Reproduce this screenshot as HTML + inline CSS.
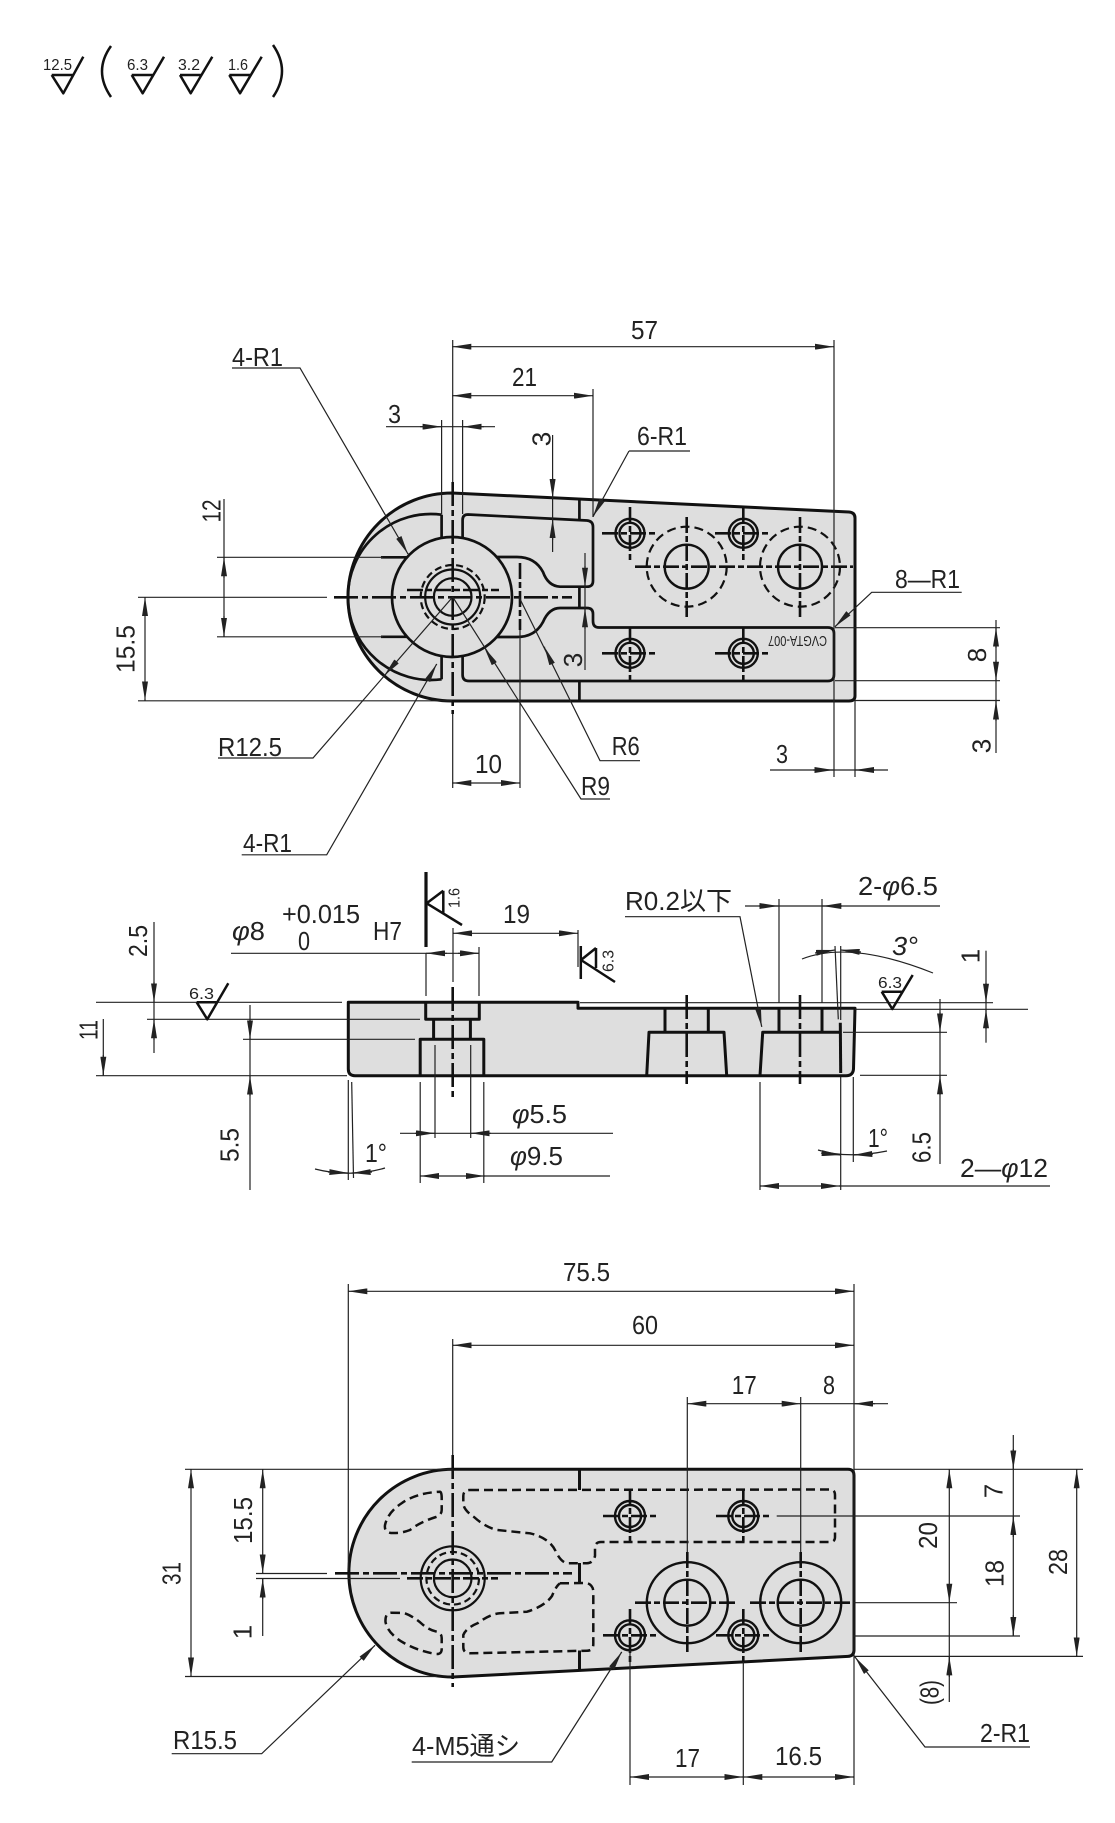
<!DOCTYPE html>
<html><head><meta charset="utf-8"><style>
html,body{margin:0;padding:0;background:#fff}
svg{display:block}
.t{stroke:#222;stroke-width:1.2;fill:none}
.k{stroke:#111;stroke-width:3;fill:none;stroke-linejoin:round}
.m{stroke:#111;stroke-width:2.4;fill:none}
.c{stroke:#111;stroke-width:2.6;fill:none;stroke-dasharray:24 4 6 4}
.x{stroke:#111;stroke-width:2.6;fill:none;stroke-dasharray:16 3 6 3}
.h{stroke:#111;stroke-width:2.6;fill:none;stroke-dasharray:9 5}
text{font-family:"Liberation Sans Narrow","Liberation Sans","Noto Sans CJK JP",sans-serif;fill:#222;font-size:26px}
.s{font-size:16px}
</style></head><body>
<svg width="1115" height="1823" viewBox="0 0 1115 1823" xmlns="http://www.w3.org/2000/svg">
<defs>
<marker id="a" viewBox="0 0 19 6" refX="19" refY="3" markerWidth="19" markerHeight="6" markerUnits="userSpaceOnUse" orient="auto"><path d="M0,0 L19,3 L0,6 Z" fill="#222"/></marker>
</defs>

<!-- ===== header roughness symbols ===== -->
<g class="k" style="stroke-width:2.5">
<path d="M51.7,75 L73.3,75 M51.7,75 L63.3,93.3 L83.3,56.7"/>
<path d="M131.7,75 L153.3,75 M131.7,75 L142.7,93.3 L164,56.7"/>
<path d="M180,75 L201.7,75 M180,75 L190.7,93.3 L212.3,56.7"/>
<path d="M229.3,75 L250.7,75 M229.3,75 L240,93.3 L261.7,56.7"/>
<path d="M111,46 Q93,71 111,97"/>
<path d="M273,45 Q291,71 273,97"/>
</g>
<text class="s" x="43" y="70" textLength="29" lengthAdjust="spacingAndGlyphs">12.5</text>
<text class="s" x="127" y="70" textLength="21" lengthAdjust="spacingAndGlyphs">6.3</text>
<text class="s" x="178" y="70" textLength="22" lengthAdjust="spacingAndGlyphs">3.2</text>
<text class="s" x="228" y="70" textLength="20" lengthAdjust="spacingAndGlyphs">1.6</text>

<!-- ===================== TOP VIEW ===================== -->
<path d="M452,493 L849,512 Q855,512.5 855,518 L855,696 Q855,701 849,701 L452,701 A104,104 0 0 1 452,493 Z" fill="#dedede" stroke="#111" stroke-width="3"/>
<g class="k" style="stroke-width:2.7">
<path d="M441.6,514.7 A83,83 0 1 0 441.6,679.3"/>
<circle cx="452" cy="597" r="60"/>
<line x1="441.6" y1="514.7" x2="441.6" y2="537.9"/>
<line x1="441.6" y1="656.1" x2="441.6" y2="679.3"/>
<line x1="381" y1="557.3" x2="407" y2="557.3"/>
<line x1="381" y1="636.8" x2="407" y2="636.8"/>
<path d="M462.6,537.9 L462.6,520 Q462.6,514.5 468,514.5 L587,520.5 Q593,521 593,527 L593,581 Q593,586.7 587,586.7 L560,586.7 Q548,586 543,572 Q535,557 517,557 L497,557"/>
<path d="M497,637 L517,637 Q535,637 543,622 Q549,608 560,608 L587,608 Q593,608 593,614 L593,621 Q593,627.5 599,627.5 L828,627.5 Q834,627.5 834,633.5 L834,674.5 Q834,681 828,681 L469,681 Q462.6,681 462.6,675 L462.6,656.1"/>
<line x1="579.4" y1="499" x2="579.4" y2="520"/>
<line x1="579.4" y1="586.7" x2="579.4" y2="608"/>
<line x1="579.4" y1="681" x2="579.4" y2="700"/>
</g>
<circle cx="452.7" cy="597" r="32" class="h" style="stroke-width:2.2;stroke-dasharray:7 4"/>
<circle cx="452.7" cy="597" r="27.5" class="m" style="stroke-width:2.2"/>
<circle cx="452.7" cy="597" r="18.8" class="m" style="stroke-width:2.2"/>
<!-- centerlines -->
<line class="c" x1="334" y1="597.3" x2="572" y2="597.3"/>
<line class="x" x1="407" y1="590" x2="499" y2="590"/>
<line class="c" x1="452.7" y1="482" x2="452.7" y2="714"/>
<line class="x" x1="520" y1="563" x2="520" y2="630"/>
<!-- small holes -->
<g class="m">
<circle cx="630" cy="533.3" r="14.5"/><circle cx="630" cy="533.3" r="10.5"/>
<circle cx="743.3" cy="533.3" r="14.5"/><circle cx="743.3" cy="533.3" r="10.5"/>
<circle cx="630" cy="653.3" r="14.5"/><circle cx="630" cy="653.3" r="10.5"/>
<circle cx="743.3" cy="653.3" r="14.5"/><circle cx="743.3" cy="653.3" r="10.5"/>
<circle cx="686.7" cy="566.7" r="22"/><circle cx="800" cy="566.7" r="22"/>
</g>
<circle cx="686.7" cy="566.7" r="40" class="h" style="stroke-width:2.2"/>
<circle cx="800" cy="566.7" r="40" class="h" style="stroke-width:2.2"/>
<g class="x">
<line x1="602" y1="533.3" x2="658" y2="533.3"/><line x1="630" y1="507" x2="630" y2="560"/>
<line x1="715" y1="533.3" x2="771" y2="533.3"/><line x1="743.3" y1="507" x2="743.3" y2="560"/>
<line x1="602" y1="653.3" x2="658" y2="653.3"/><line x1="630" y1="628" x2="630" y2="680"/>
<line x1="715" y1="653.3" x2="771" y2="653.3"/><line x1="743.3" y1="628" x2="743.3" y2="680"/>
<line x1="635" y1="566.7" x2="853" y2="566.7"/>
<line x1="686.7" y1="517" x2="686.7" y2="618"/>
<line x1="800" y1="517" x2="800" y2="618"/>
</g>
<text class="s" transform="translate(797.5,641.5) rotate(180)" x="0" y="5.5" text-anchor="middle" font-size="15" textLength="59" lengthAdjust="spacingAndGlyphs" style="font-size:15px">CVGTA-007</text>

<!-- top view dims -->
<g class="t">
<line x1="452.7" y1="340" x2="452.7" y2="482"/><line x1="452.7" y1="714" x2="452.7" y2="788"/>
<line x1="834" y1="340" x2="834" y2="777"/>
<line x1="593" y1="389" x2="593" y2="517"/>
<line x1="441.6" y1="420" x2="441.6" y2="514"/>
<line x1="462.6" y1="420" x2="462.6" y2="514"/>
<line x1="520" y1="630" x2="520" y2="788"/>
<line x1="855" y1="700" x2="855" y2="777"/>
<line x1="452.3" y1="346.7" x2="834" y2="346.7"/>
<line x1="452.3" y1="395.7" x2="593" y2="395.7"/>
<line x1="386" y1="426.7" x2="495" y2="426.7"/>
<line x1="552.6" y1="435" x2="552.6" y2="552"/>
<line x1="585" y1="553" x2="585" y2="670"/>
<path d="M629,451 L690,451 M629,451 L593,516.7"/>
<path d="M232,368 L300,368 L408,554"/>
<line x1="224" y1="499" x2="224" y2="637"/>
<line x1="217" y1="557.3" x2="383" y2="557.3"/>
<line x1="217" y1="636.8" x2="383" y2="636.8"/>
<line x1="145" y1="597" x2="145" y2="700.5"/>
<line x1="138" y1="597.3" x2="327" y2="597.3"/>
<line x1="138" y1="700.8" x2="452" y2="700.8"/>
<path d="M218,758 L313,758 L452.7,597"/>
<path d="M241.7,854.8 L326.7,854.8 L436.7,664"/>
<line x1="452.3" y1="783" x2="520" y2="783"/>
<path d="M452.7,597 L581,799 L610,799"/>
<path d="M519,597 L600,760.7 L640,760.7"/>
<path d="M961.7,592.3 L871.7,592.3 L835,626.7"/>
<line x1="996" y1="620" x2="996" y2="753"/>
<line x1="835" y1="627.7" x2="1000" y2="627.7"/>
<line x1="835" y1="680.7" x2="1000" y2="680.7"/>
<line x1="855" y1="700.5" x2="1000" y2="700.5"/>
<line x1="770" y1="770" x2="888" y2="770"/>
</g>
<g class="t" marker-end="url(#a)">
<path d="M453.3,346.7 L452.3,346.7"/><path d="M833,346.7 L834,346.7"/>
<path d="M453.3,395.7 L452.3,395.7"/><path d="M592,395.7 L593,395.7"/>
<path d="M420,426.7 L441.6,426.7"/><path d="M484,426.7 L462.6,426.7"/>
<path d="M552.6,478 L552.6,498"/><path d="M552.6,540 L552.6,519"/>
<path d="M585,566 L585,586.7"/><path d="M585,629 L585,608.3"/>
<path d="M593.3,515.8 L592.8,516.7"/>
<path d="M407.5,553.1 L408,554"/>
<path d="M224,578 L224,557.3"/><path d="M224,616 L224,636.8"/>
<path d="M145,598 L145,597"/><path d="M145,699.5 L145,700.5"/>
<path d="M384.8,674.9 L384.1,675.7"/>
<path d="M436.2,664.9 L436.7,664"/>
<path d="M453.3,783 L452.3,783"/><path d="M519,783 L520,783"/>
<path d="M484.8,648.4 L484.3,647.6"/>
<path d="M544.8,647.6 L544.4,646.7"/>
<path d="M835.7,626 L835,626.7"/>
<path d="M996,648 L996,627.7"/><path d="M996,660 L996,680.7"/>
<path d="M996,721 L996,700.5"/>
<path d="M813,770 L833.3,770"/><path d="M875,770 L855,770"/>
</g>
<text x="631" y="339" textLength="27" lengthAdjust="spacingAndGlyphs">57</text>
<text x="512" y="386" textLength="25" lengthAdjust="spacingAndGlyphs">21</text>
<text x="388" y="423" textLength="13" lengthAdjust="spacingAndGlyphs">3</text>
<text x="637" y="445" textLength="50" lengthAdjust="spacingAndGlyphs">6-R1</text>
<text x="232" y="366" textLength="51" lengthAdjust="spacingAndGlyphs">4-R1</text>
<text transform="translate(211,511) rotate(-90)" x="0" y="9.3" text-anchor="middle" textLength="23" lengthAdjust="spacingAndGlyphs">12</text>
<text transform="translate(125,649) rotate(-90)" x="0" y="9.3" text-anchor="middle" textLength="48" lengthAdjust="spacingAndGlyphs">15.5</text>
<text x="218" y="756" textLength="64" lengthAdjust="spacingAndGlyphs">R12.5</text>
<text x="243" y="852" textLength="49" lengthAdjust="spacingAndGlyphs">4-R1</text>
<text x="475" y="773" textLength="27" lengthAdjust="spacingAndGlyphs">10</text>
<text x="581" y="795" textLength="29" lengthAdjust="spacingAndGlyphs">R9</text>
<text x="611.7" y="755" textLength="28" lengthAdjust="spacingAndGlyphs">R6</text>
<text transform="translate(541,439) rotate(-90)" x="0" y="9.3" text-anchor="middle">3</text>
<text transform="translate(572.5,660) rotate(-90)" x="0" y="9.3" text-anchor="middle">3</text>
<text x="895" y="588" textLength="65" lengthAdjust="spacingAndGlyphs">8—R1</text>
<text transform="translate(976.7,655) rotate(-90)" x="0" y="9.3" text-anchor="middle">8</text>
<text transform="translate(981,746) rotate(-90)" x="0" y="9.3" text-anchor="middle">3</text>
<text x="776" y="763" textLength="12" lengthAdjust="spacingAndGlyphs">3</text>

<!-- ===================== SIDE VIEW ===================== -->
<path d="M348.3,1002.3 L578,1002.3 L578,1008.3 L855,1008.3 L853.5,1069 Q853,1075.7 846,1075.7 L355,1075.7 Q348.3,1075.7 348.3,1069 Z" fill="#dedede" stroke="#111" stroke-width="3" stroke-linejoin="round"/>
<g class="k">
<path d="M425.7,1002.3 L425.7,1019.3 L479.3,1019.3 L479.3,1002.3"/>
<line x1="433.6" y1="1019.3" x2="433.6" y2="1039.3"/>
<line x1="470.4" y1="1019.3" x2="470.4" y2="1039.3"/>
<path d="M420.2,1075.7 L420.2,1039.3 L483.8,1039.3 L483.8,1075.7"/>
<line x1="665" y1="1008.3" x2="665" y2="1032.3"/>
<line x1="708.3" y1="1008.3" x2="708.3" y2="1032.3"/>
<path d="M646.7,1075.7 L649,1032.3 L724,1032.3 L726.7,1075.7"/>
<line x1="779" y1="1008.3" x2="779" y2="1032.3"/>
<line x1="822" y1="1008.3" x2="822" y2="1032.3"/>
<path d="M760,1075.7 L762.7,1032.3 L840,1032.3"/>
<line x1="840.3" y1="1022.7" x2="840.7" y2="1073"/>
</g>
<line class="c" x1="452.7" y1="987" x2="452.7" y2="1099"/>
<line class="c" x1="686.7" y1="995" x2="686.7" y2="1084"/>
<line class="c" x1="800" y1="995" x2="800" y2="1084"/>
<!-- side dims -->
<g class="t">
<line x1="96" y1="1002.3" x2="342" y2="1002.3"/>
<line x1="147" y1="1019.3" x2="420" y2="1019.3"/>
<line x1="243" y1="1039.3" x2="415" y2="1039.3"/>
<line x1="96" y1="1075.7" x2="347" y2="1075.7"/>
<line x1="154" y1="922" x2="154" y2="1053"/>
<line x1="103.3" y1="1019" x2="103.3" y2="1076"/>
<line x1="250" y1="1005" x2="250" y2="1190"/>
<line x1="435" y1="1045" x2="435" y2="1138"/>
<line x1="470.7" y1="1045" x2="470.7" y2="1138"/>
<line x1="420.2" y1="1082" x2="420.2" y2="1183"/>
<line x1="483.8" y1="1082" x2="483.8" y2="1183"/>
<line x1="348.3" y1="1080" x2="348.3" y2="1180"/>
<line x1="351.7" y1="1082" x2="353.5" y2="1178"/>
<path d="M315,1169 Q350,1178 385,1168"/>
<line x1="231" y1="953.3" x2="479" y2="953.3"/>
<line x1="426" y1="953" x2="426" y2="996"/>
<line x1="479" y1="947" x2="479" y2="996"/>
<line x1="453" y1="933.3" x2="578" y2="933.3"/>
<line x1="453" y1="928" x2="453" y2="982"/>
<line x1="578" y1="930" x2="578" y2="967"/>
<path d="M625,916.7 L740,916.7 L761.7,1026.7"/>
<line x1="745" y1="906" x2="940" y2="906"/>
<line x1="779" y1="899" x2="779" y2="1003"/>
<line x1="822" y1="899" x2="822" y2="1003"/>
<path d="M802,959 Q850,940 933,973"/>
<line x1="835" y1="946" x2="838.3" y2="1019.3"/>
<line x1="840.7" y1="946" x2="840.7" y2="1020"/>
<line x1="580" y1="1002.7" x2="993" y2="1002.7"/>
<line x1="855" y1="1009.3" x2="1028" y2="1009.3"/>
<line x1="843" y1="1032.3" x2="947" y2="1032.3"/>
<line x1="860" y1="1075.3" x2="947" y2="1075.3"/>
<line x1="986" y1="950.7" x2="986" y2="1042.7"/>
<line x1="940" y1="999" x2="940" y2="1164"/>
<line x1="840.7" y1="1077" x2="840.7" y2="1190"/>
<line x1="853.3" y1="1077" x2="853.3" y2="1162"/>
<path d="M818,1150 Q847,1159 887,1151"/>
<line x1="760" y1="1186" x2="1050" y2="1186"/>
<line x1="760" y1="1082" x2="760" y2="1190"/>
<line x1="400" y1="1133.3" x2="613" y2="1133.3"/>
<line x1="420" y1="1176" x2="610" y2="1176"/>
</g>
<g class="t" marker-end="url(#a)">
<path d="M154,982 L154,1002.3"/><path d="M154,1040 L154,1019.3"/>
<path d="M103.3,1055 L103.3,1075.7"/>
<path d="M250,1019 L250,1039.3"/><path d="M250,1096 L250,1075.7"/>
<path d="M328,1172 L348.3,1173"/><path d="M372,1172 L351.7,1173"/>
<path d="M447,953.3 L426,953.3"/><path d="M458,953.3 L479,953.3"/>
<path d="M454,933.3 L453,933.3"/><path d="M577,933.3 L578,933.3"/>
<path d="M761.5,1025.7 L761.7,1026.7"/>
<path d="M759,906 L778.3,906"/><path d="M842,906 L822.3,906"/>
<path d="M815,953 L835,950"/><path d="M861,952 L840.7,950"/>
<path d="M986,983 L986,1002.7"/><path d="M986,1029 L986,1009.3"/>
<path d="M940,1012 L940,1032.3"/><path d="M940,1095 L940,1075.3"/>
<path d="M821,1153 L840.7,1155"/><path d="M873,1154 L853.3,1155"/>
<path d="M761,1186 L760,1186"/><path d="M839,1186 L840,1186"/>
<path d="M415,1133.3 L435,1133.3"/><path d="M491,1133.3 L470.7,1133.3"/>
<path d="M421,1176 L420,1176"/><path d="M484,1176 L485,1176"/>
</g>
<!-- side symbols -->
<g class="k" style="stroke-width:2.5">
<path d="M196.7,1002.3 L216.7,1002.3 M196.7,1002.3 L207.3,1019.3 L228.3,983.3"/>
<path d="M881.7,991.7 L901.7,991.7 M881.7,991.7 L892.3,1009 L912.7,975"/>
<line x1="426" y1="872" x2="426" y2="947" style="stroke-width:3.2"/>
<path d="M443.3,890.7 L443.3,913 M443.3,890.7 L426.7,903.3 L462,925"/>
<line x1="580.8" y1="946" x2="580.8" y2="979"/>
<path d="M596,948 L596,968 M596,948 L581,960 L615,982"/>
</g>
<text class="s" x="189" y="999" textLength="25" lengthAdjust="spacingAndGlyphs">6.3</text>
<text class="s" x="878" y="988" textLength="24" lengthAdjust="spacingAndGlyphs">6.3</text>
<text class="s" transform="translate(454,898) rotate(-90)" x="0" y="5.5" text-anchor="middle" textLength="20" lengthAdjust="spacingAndGlyphs">1.6</text>
<text class="s" transform="translate(608,961) rotate(-90)" x="0" y="5.5" text-anchor="middle" textLength="22" lengthAdjust="spacingAndGlyphs">6.3</text>
<text transform="translate(137.5,941) rotate(-90)" x="0" y="9.3" text-anchor="middle" textLength="32" lengthAdjust="spacingAndGlyphs">2.5</text>
<text transform="translate(88,1030) rotate(-90)" x="0" y="9.3" text-anchor="middle" textLength="20" lengthAdjust="spacingAndGlyphs">11</text>
<text transform="translate(229,1145) rotate(-90)" x="0" y="9.3" text-anchor="middle" textLength="34" lengthAdjust="spacingAndGlyphs">5.5</text>
<text x="365" y="1162" textLength="22" lengthAdjust="spacingAndGlyphs">1°</text>
<text x="232" y="940" textLength="33" lengthAdjust="spacingAndGlyphs"><tspan font-style="italic">φ</tspan>8</text>
<text x="282" y="923" textLength="78" lengthAdjust="spacingAndGlyphs">+0.015</text>
<text x="298" y="950" textLength="12" lengthAdjust="spacingAndGlyphs">0</text>
<text x="373" y="940" textLength="29" lengthAdjust="spacingAndGlyphs">H7</text>
<text x="503" y="923" textLength="27" lengthAdjust="spacingAndGlyphs">19</text>
<text x="625" y="910" textLength="107" lengthAdjust="spacingAndGlyphs">R0.2以下</text>
<text x="858" y="895" textLength="80" lengthAdjust="spacingAndGlyphs">2-<tspan font-style="italic">φ</tspan>6.5</text>
<text x="892" y="955" textLength="26" lengthAdjust="spacingAndGlyphs" font-style="italic">3°</text>
<text transform="translate(970,956) rotate(-90)" x="0" y="9.3" text-anchor="middle">1</text>
<text transform="translate(921,1147.5) rotate(-90)" x="0" y="9.3" text-anchor="middle" textLength="31" lengthAdjust="spacingAndGlyphs">6.5</text>
<text x="868" y="1147" textLength="20" lengthAdjust="spacingAndGlyphs">1°</text>
<text x="960" y="1177" textLength="88" lengthAdjust="spacingAndGlyphs">2—<tspan font-style="italic">φ</tspan>12</text>
<text x="512" y="1123" textLength="55" lengthAdjust="spacingAndGlyphs"><tspan font-style="italic">φ</tspan>5.5</text>
<text x="510" y="1165" textLength="53" lengthAdjust="spacingAndGlyphs"><tspan font-style="italic">φ</tspan>9.5</text>

<!-- ===================== BOTTOM VIEW ===================== -->
<path d="M452.7,1469.3 L848,1469.3 Q854,1469.3 854,1475.5 L854,1650 Q854,1656 848,1656.4 L452.7,1677 A103.85,103.85 0 0 1 452.7,1469.3 Z" fill="#dedede" stroke="#111" stroke-width="3" stroke-linejoin="round"/>
<g class="k">
<line x1="579.5" y1="1469" x2="579.5" y2="1490"/>
<line x1="579.5" y1="1563" x2="579.5" y2="1583.5"/>
<line x1="579.5" y1="1650.5" x2="579.5" y2="1670"/>
</g>
<g class="h" style="stroke-width:2.5">
<path d="M440,1491.7 Q441.7,1492 441.7,1498 L441.7,1510 Q441.7,1515 436,1517 Q420,1522 410,1530 Q402,1533 396,1533 L391,1533 Q384,1532 385,1525 Q388,1512 402,1503 Q416,1493 440,1491.7 Z"/>
<path d="M391,1612.7 L404,1613 Q413,1616 422,1624 Q429,1630 436.7,1631.7 Q441.7,1633 441.7,1638 L441.7,1649 Q441.7,1654.5 436,1654 Q418,1651 404,1643 Q388,1634 385.5,1622 Q385,1613 391,1612.7 Z"/>
<path d="M470,1490 L830,1489.5 Q835,1489.5 835,1495 L835,1537 Q835,1542 830,1542 L601,1542 Q595,1542 595,1548 L595,1556 Q593,1563 587,1563.3 L567,1563.3 Q561,1562 556,1552 Q550,1538 530,1533.3 L497,1530 Q485,1527 474,1517 Q463.3,1510 463.3,1503 L463.3,1496 Q463.3,1490 470,1490 Z"/>
<path d="M560,1583.3 L587,1583 Q593.3,1585 593.3,1592 L593.3,1644 Q593.3,1650.7 587,1650.7 L470,1653.3 Q463.3,1653.3 463.3,1647 L463.3,1635 Q466,1628 478,1623 Q490,1614 500,1613.3 L527,1611.7 Q545,1606 552,1596 Q556,1586 560,1583.3"/>
</g>
<circle cx="452.7" cy="1578.3" r="32" class="m" style="stroke-width:2.2"/>
<circle cx="452.7" cy="1578.3" r="26.3" class="h" style="stroke-width:2.2;stroke-dasharray:7 4"/>
<circle cx="452.7" cy="1578.3" r="18.8" class="m" style="stroke-width:2.2"/>
<line class="c" x1="335" y1="1573.3" x2="572" y2="1573.3"/>
<line class="x" x1="407" y1="1578.3" x2="498" y2="1578.3"/>
<line class="c" x1="452.7" y1="1455" x2="452.7" y2="1687"/>
<g class="m">
<circle cx="630" cy="1516" r="15"/><circle cx="630" cy="1516" r="11"/>
<circle cx="743.3" cy="1516" r="15"/><circle cx="743.3" cy="1516" r="11"/>
<circle cx="630" cy="1635.3" r="15"/><circle cx="630" cy="1635.3" r="11"/>
<circle cx="743.3" cy="1635.3" r="15"/><circle cx="743.3" cy="1635.3" r="11"/>
<circle cx="687.3" cy="1602.7" r="40.5"/><circle cx="687.3" cy="1602.7" r="23"/>
<circle cx="800.7" cy="1602.7" r="40.5"/><circle cx="800.7" cy="1602.7" r="23"/>
</g>
<g class="x">
<line x1="603" y1="1516" x2="658" y2="1516"/><line x1="630" y1="1489" x2="630" y2="1542"/>
<line x1="716" y1="1516" x2="771" y2="1516"/><line x1="743.3" y1="1489" x2="743.3" y2="1542"/>
<line x1="603" y1="1635.3" x2="658" y2="1635.3"/><line x1="630" y1="1609" x2="630" y2="1662"/>
<line x1="716" y1="1635.3" x2="771" y2="1635.3"/><line x1="743.3" y1="1609" x2="743.3" y2="1662"/>
<line x1="635" y1="1602.7" x2="738" y2="1602.7"/><line x1="687.3" y1="1552" x2="687.3" y2="1654"/>
<line x1="750" y1="1602.7" x2="852" y2="1602.7"/><line x1="800.7" y1="1552" x2="800.7" y2="1654"/>
</g>
<!-- bottom dims -->
<g class="t">
<line x1="348.3" y1="1291.3" x2="854" y2="1291.3"/>
<line x1="348.3" y1="1284" x2="348.3" y2="1570"/>
<line x1="854" y1="1284" x2="854" y2="1785"/>
<line x1="452.7" y1="1345.3" x2="854" y2="1345.3"/>
<line x1="452.7" y1="1339" x2="452.7" y2="1455"/>
<line x1="687.3" y1="1403.7" x2="888" y2="1403.7"/>
<line x1="687.3" y1="1397" x2="687.3" y2="1552"/>
<line x1="800.7" y1="1397" x2="800.7" y2="1552"/>
<line x1="185" y1="1469.3" x2="452.7" y2="1469.3"/>
<line x1="185" y1="1676.5" x2="437" y2="1676.5"/>
<line x1="191" y1="1469.3" x2="191" y2="1676.5"/>
<line x1="262.7" y1="1469.3" x2="262.7" y2="1573.5"/>
<line x1="262.7" y1="1578.3" x2="262.7" y2="1636"/>
<line x1="256" y1="1573.5" x2="327" y2="1573.5"/>
<line x1="256" y1="1578.5" x2="400" y2="1578.5"/>
<path d="M171.7,1753.7 L261.7,1753.7 L375,1645.3"/>
<path d="M411.7,1762 L551.7,1762 L621.7,1652"/>
<path d="M1030,1747 L925,1747 L855,1657"/>
<line x1="854" y1="1469.3" x2="1083" y2="1469.3"/>
<line x1="776.7" y1="1516" x2="1020" y2="1516"/>
<line x1="853" y1="1602.7" x2="957" y2="1602.7"/>
<line x1="853" y1="1636" x2="1020" y2="1636"/>
<line x1="854" y1="1656.4" x2="1083" y2="1656.4"/>
<line x1="949.3" y1="1469.3" x2="949.3" y2="1702"/>
<line x1="1013.3" y1="1435" x2="1013.3" y2="1636"/>
<line x1="1076.7" y1="1469.3" x2="1076.7" y2="1656.4"/>
<line x1="630" y1="1777" x2="854" y2="1777"/>
<line x1="630" y1="1650" x2="630" y2="1785"/>
<line x1="743.3" y1="1662" x2="743.3" y2="1785"/>
</g>
<g class="t" marker-end="url(#a)">
<path d="M349.3,1291.3 L348.3,1291.3"/><path d="M853,1291.3 L854,1291.3"/>
<path d="M453.7,1345.3 L452.7,1345.3"/><path d="M853,1345.3 L854,1345.3"/>
<path d="M688.3,1403.7 L687.3,1403.7"/><path d="M799.7,1403.7 L800.7,1403.7"/>
<path d="M875,1403.7 L854,1403.7"/>
<path d="M191,1470.3 L191,1469.3"/><path d="M191,1675.5 L191,1676.5"/>
<path d="M262.7,1470.3 L262.7,1469.3"/><path d="M262.7,1572.5 L262.7,1573.5"/>
<path d="M262.7,1599 L262.7,1578.5"/>
<path d="M374.3,1646 L375,1645.3"/>
<path d="M621.2,1652.8 L621.7,1652"/>
<path d="M855.6,1657.8 L855,1657"/>
<path d="M949.3,1470.3 L949.3,1469.3"/><path d="M949.3,1601.7 L949.3,1602.7"/>
<path d="M949.3,1677 L949.3,1656.4"/>
<path d="M1013.3,1449 L1013.3,1469.3"/><path d="M1013.3,1537 L1013.3,1516"/>
<path d="M1013.3,1615 L1013.3,1636"/>
<path d="M1076.7,1470.3 L1076.7,1469.3"/><path d="M1076.7,1655.4 L1076.7,1656.4"/>
<path d="M631,1777 L630,1777"/><path d="M742.3,1777 L743.3,1777"/>
<path d="M744.3,1777 L743.3,1777"/><path d="M853,1777 L854,1777"/>
</g>
<text x="563" y="1281" textLength="47" lengthAdjust="spacingAndGlyphs">75.5</text>
<text x="632" y="1334" textLength="26" lengthAdjust="spacingAndGlyphs">60</text>
<text x="731.7" y="1394" textLength="25" lengthAdjust="spacingAndGlyphs">17</text>
<text x="823" y="1394" textLength="12" lengthAdjust="spacingAndGlyphs">8</text>
<text transform="translate(171,1573.5) rotate(-90)" x="0" y="9.3" text-anchor="middle" textLength="23" lengthAdjust="spacingAndGlyphs">31</text>
<text transform="translate(242.5,1520.5) rotate(-90)" x="0" y="9.3" text-anchor="middle" textLength="47" lengthAdjust="spacingAndGlyphs">15.5</text>
<text transform="translate(242,1632) rotate(-90)" x="0" y="9.3" text-anchor="middle">1</text>
<text x="173" y="1749" textLength="64" lengthAdjust="spacingAndGlyphs">R15.5</text>
<text x="412" y="1755" textLength="108" lengthAdjust="spacingAndGlyphs">4-M5通シ</text>
<text x="980" y="1742" textLength="50" lengthAdjust="spacingAndGlyphs">2-R1</text>
<text transform="translate(927.5,1535.5) rotate(-90)" x="0" y="9.3" text-anchor="middle" textLength="27" lengthAdjust="spacingAndGlyphs">20</text>
<text transform="translate(929,1692.5) rotate(-90)" x="0" y="9.3" text-anchor="middle" textLength="25" lengthAdjust="spacingAndGlyphs">(8)</text>
<text transform="translate(993,1491) rotate(-90)" x="0" y="9.3" text-anchor="middle">7</text>
<text transform="translate(994,1573.5) rotate(-90)" x="0" y="9.3" text-anchor="middle" textLength="27" lengthAdjust="spacingAndGlyphs">18</text>
<text transform="translate(1057.5,1562) rotate(-90)" x="0" y="9.3" text-anchor="middle" textLength="26" lengthAdjust="spacingAndGlyphs">28</text>
<text x="675" y="1767" textLength="25" lengthAdjust="spacingAndGlyphs">17</text>
<text x="775" y="1765" textLength="47" lengthAdjust="spacingAndGlyphs">16.5</text>
</svg>
</body></html>
